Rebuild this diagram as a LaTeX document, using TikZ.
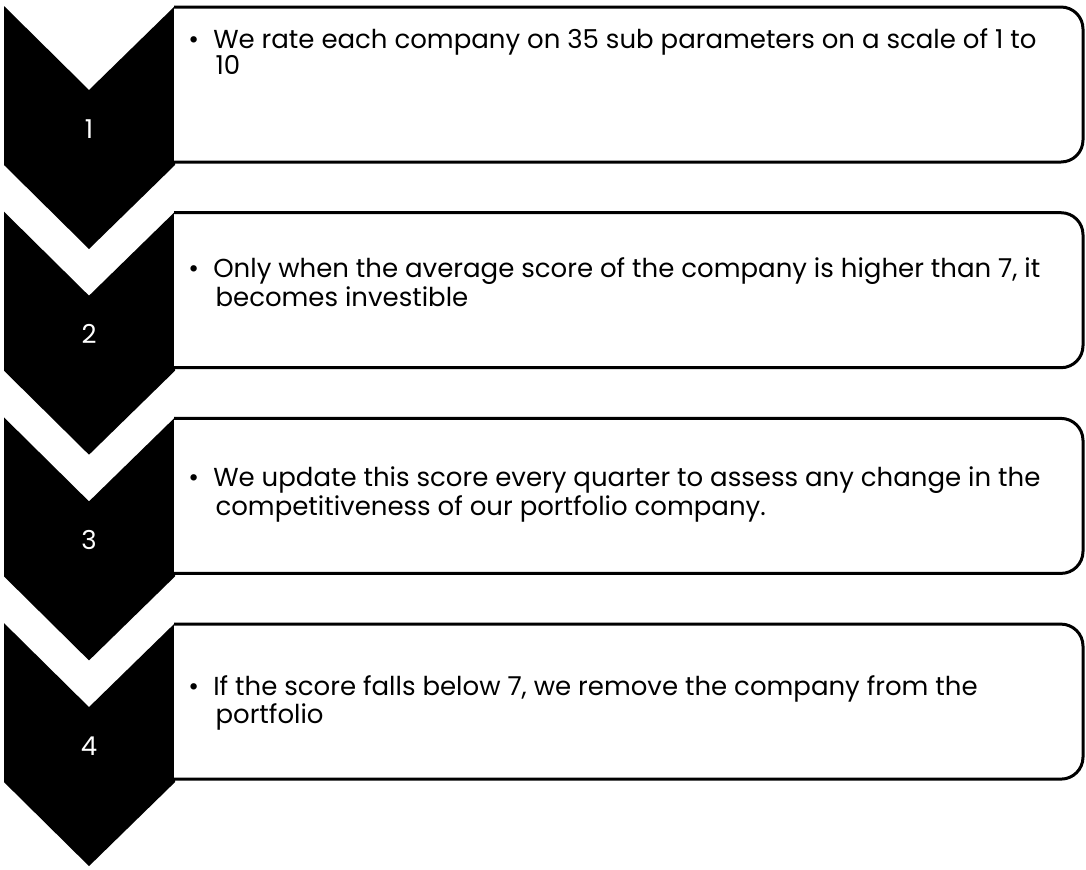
\documentclass[tikz,border=0pt]{standalone}
\usepackage{fontspec}
\setmainfont{Poppins}
\begin{document}
\begin{tikzpicture}[x=0.75pt,y=-0.75pt,
  chev/.style={fill=black,draw=none},
  stepbox/.style={draw=black,line width=2.25pt,fill=white,rounded corners=16.5pt},
  numlbl/.style={text=white,font=\fontsize{19.5}{23}\selectfont,inner sep=0pt,anchor=base},
  bodytxt/.style={anchor=base west,align=left,inner sep=0pt,font=\fontsize{19.5}{19.5}\selectfont}]
\useasboundingbox (0,0) rectangle (1086,869);
\foreach \i/\t in {1/6,2/211.7,3/417.4,4/623.1}{
  \fill[chev] (4,\t) -- (89,\t+84) -- (175,\t) -- (175,\t+159) -- (89,\t+243) -- (4,\t+159) -- cycle;
  \draw[stepbox] (174,\t+1) -- (1083,\t+1) -- (1083,\t+156) -- (174,\t+156);
  \node[numlbl] (n\i) at (89,\t+132) {\i};
}
\node[bodytxt] (t1) at (188,74) {\textbullet\hspace{0.55em}We rate each company on 35 sub parameters on a scale of 1 to\\\hspace{1.05em}10};
\node[bodytxt] (t2) at (188,306) {\textbullet\hspace{0.55em}Only when the average score of the company is higher than 7, it\\\hspace{1.05em}becomes investible};
\node[bodytxt] (t3) at (188,515) {\textbullet\hspace{0.55em}We update this score every quarter to assess any change in the\\\hspace{1.05em}competitiveness of our portfolio company.};
\node[bodytxt] (t4) at (188,723) {\textbullet\hspace{0.55em}If the score falls below 7, we remove the company from the\\\hspace{1.05em}portfolio};
\end{tikzpicture}
\end{document}
